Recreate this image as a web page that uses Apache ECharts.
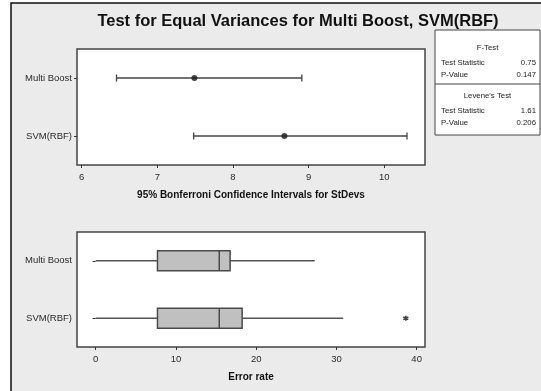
<!DOCTYPE html>
<html>
<head>
<meta charset="utf-8">
<title>Test for Equal Variances</title>
<script src="https://cdn.jsdelivr.net/npm/echarts@6/dist/echarts.min.js"></script>
<style>
  html, body { margin: 0; padding: 0; background: #ffffff; }
  #chart { width: 541px; height: 391px; }
</style>
</head>
<body>
<div id="chart"></div>
<script>
// categories (top to bottom)
var groups = ['Multi Boost', 'SVM(RBF)'];

// 95% Bonferroni confidence intervals for StDevs
var ciLow = [6.46, 7.48];
var ciPoint = [7.49, 8.68];
var ciHigh = [8.91, 10.30];
var ciTicks = [6, 7, 8, 9, 10];

// box plot of error rate: min, q1, median, q3, max
var boxMin = [0.0, 0.0];
var boxQ1 = [7.7, 7.7];
var boxMedian = [15.4, 15.4];
var boxQ3 = [16.75, 18.25];
var boxMax = [27.3, 30.85];
var outliers = [[38.65, 1]];
var errTicks = [0, 10, 20, 30, 40];

// test results
var fTest = [['Test Statistic', '0.75'], ['P-Value', '0.147']];
var leveneTest = [['Test Statistic', '1.61'], ['P-Value', '0.206']];

var font = 'Liberation Sans';
var myChart = echarts.init(document.getElementById('chart'));

function catAxis(gridIndex) {
  return {
    type: 'category',
    gridIndex: gridIndex,
    data: groups,
    inverse: true,
    axisLine: { show: false },
    axisTick: { show: true, alignWithLabel: true, length: 3, lineStyle: { color: '#333' } },
    axisLabel: { color: '#2a2a2a', fontSize: 9.5, fontFamily: font, margin: 5 },
    splitLine: { show: false }
  };
}

function valAxis(gridIndex, min, max, ticks, name) {
  return {
    type: 'value',
    gridIndex: gridIndex,
    min: min,
    max: max,
    name: name,
    nameLocation: 'middle',
    nameGap: 25,
    nameTextStyle: { color: '#111', fontSize: 10, fontWeight: 'bold', fontFamily: font },
    axisLine: { show: false },
    axisTick: { show: true, length: 3, customValues: ticks, lineStyle: { color: '#333' } },
    axisLabel: { color: '#2a2a2a', fontSize: 9.5, fontFamily: font, margin: 7, customValues: ticks },
    splitLine: { show: false }
  };
}

// statistics panel
var panel = [];
var px = 435, py = 30, pw = 105;
panel.push({ type: 'rect', shape: { x: px, y: py, width: pw, height: 105 },
  style: { fill: '#ffffff', stroke: '#444', lineWidth: 1 } });
panel.push({ type: 'line', shape: { x1: px, y1: 84, x2: px + pw, y2: 84 },
  style: { stroke: '#444', lineWidth: 1 } });
function addBlock(title, rows, y0) {
  panel.push({ type: 'text', x: px + pw / 2, y: y0,
    style: { text: title, fill: '#222', font: '7.8px ' + font, align: 'center', verticalAlign: 'middle' } });
  rows.forEach(function (r, i) {
    var y = y0 + 15.5 + i * 12;
    panel.push({ type: 'text', x: px + 6, y: y,
      style: { text: r[0], fill: '#222', font: '7.8px ' + font, align: 'left', verticalAlign: 'middle' } });
    panel.push({ type: 'text', x: px + pw - 4, y: y,
      style: { text: r[1], fill: '#222', font: '7.8px ' + font, align: 'right', verticalAlign: 'middle' } });
  });
}
addBlock('F-Test', fTest, 47.5);
addBlock("Levene's Test", leveneTest, 95.5);

var option = {
  animation: false,
  graphic: [
    { type: 'rect', z: -10, shape: { x: 11, y: 3, width: 600, height: 500 },
      style: { fill: '#ebebeb', stroke: '#111', lineWidth: 1.5 } },
    { type: 'text', x: 298, y: 21,
      style: { text: 'Test for Equal Variances for Multi Boost, SVM(RBF)', fill: '#111',
        font: 'bold 16.5px ' + font, align: 'center', verticalAlign: 'middle' } }
  ].concat(panel),
  grid: [
    { left: 77, top: 49, width: 348, height: 116, show: true, backgroundColor: '#ffffff',
      borderColor: '#444', borderWidth: 1.5 },
    { left: 77, top: 232, width: 348, height: 115, show: true, backgroundColor: '#ffffff',
      borderColor: '#444', borderWidth: 1.5 }
  ],
  xAxis: [
    valAxis(0, 5.938, 10.538, ciTicks, '95% Bonferroni Confidence Intervals for StDevs'),
    valAxis(1, -2.33, 41.04, errTicks, 'Error rate')
  ],
  yAxis: [catAxis(0), catAxis(1)],
  series: [
    {
      name: 'CI',
      type: 'custom',
      xAxisIndex: 0,
      yAxisIndex: 0,
      encode: { x: [1, 2], y: 0 },
      data: groups.map(function (g, i) { return [i, ciLow[i], ciHigh[i]]; }),
      renderItem: function (params, api) {
        var lo = api.coord([api.value(1), api.value(0)]);
        var hi = api.coord([api.value(2), api.value(0)]);
        var s = { stroke: '#444', lineWidth: 1.3 };
        return {
          type: 'group',
          children: [
            { type: 'line', shape: { x1: lo[0], y1: lo[1], x2: hi[0], y2: hi[1] }, style: s },
            { type: 'line', shape: { x1: lo[0], y1: lo[1] - 3.5, x2: lo[0], y2: lo[1] + 3.5 }, style: s },
            { type: 'line', shape: { x1: hi[0], y1: hi[1] - 3.5, x2: hi[0], y2: hi[1] + 3.5 }, style: s }
          ]
        };
      }
    },
    {
      name: 'StDev',
      type: 'scatter',
      xAxisIndex: 0,
      yAxisIndex: 0,
      symbolSize: 6,
      itemStyle: { color: '#1a1a1a' },
      data: groups.map(function (g, i) { return [ciPoint[i], i]; }),
      z: 5
    },
    {
      name: 'Box',
      type: 'custom',
      xAxisIndex: 1,
      yAxisIndex: 1,
      encode: { x: [1, 2, 3, 4, 5], y: 0 },
      data: groups.map(function (g, i) {
        return [i, boxMin[i], boxQ1[i], boxMedian[i], boxQ3[i], boxMax[i]];
      }),
      renderItem: function (params, api) {
        var c = api.value(0);
        var pMin = api.coord([api.value(1), c]);
        var pQ1 = api.coord([api.value(2), c]);
        var pMed = api.coord([api.value(3), c]);
        var pQ3 = api.coord([api.value(4), c]);
        var pMax = api.coord([api.value(5), c]);
        var h = 20;
        var y = pQ1[1];
        var s = { stroke: '#555', lineWidth: 1.3 };
        return {
          type: 'group',
          children: [
            { type: 'line', shape: { x1: pMin[0], y1: y, x2: pQ1[0], y2: y }, style: s },
            { type: 'line', shape: { x1: pQ3[0], y1: y, x2: pMax[0], y2: y }, style: s },
            { type: 'rect', shape: { x: pQ1[0], y: y - h / 2, width: pQ3[0] - pQ1[0], height: h },
              style: { fill: '#c0c0c0', stroke: '#4a4a4a', lineWidth: 1.5 } },
            { type: 'line', shape: { x1: pMed[0], y1: y - h / 2, x2: pMed[0], y2: y + h / 2 },
              style: { stroke: '#4a4a4a', lineWidth: 1.5 } }
          ]
        };
      }
    },
    {
      name: 'Outlier',
      type: 'scatter',
      xAxisIndex: 1,
      yAxisIndex: 1,
      symbol: 'path://M5 0 L5 10 M0 2.5 L10 7.5 M0 7.5 L10 2.5',
      symbolSize: 5,
      itemStyle: { color: 'none', borderColor: '#111', borderWidth: 1.5 },
      data: outliers
    }
  ]
};

myChart.setOption(option, true);
window.addEventListener('resize', function () {
  if (myChart) {
    myChart.resize();
  }
});
</script>
</body>
</html>
